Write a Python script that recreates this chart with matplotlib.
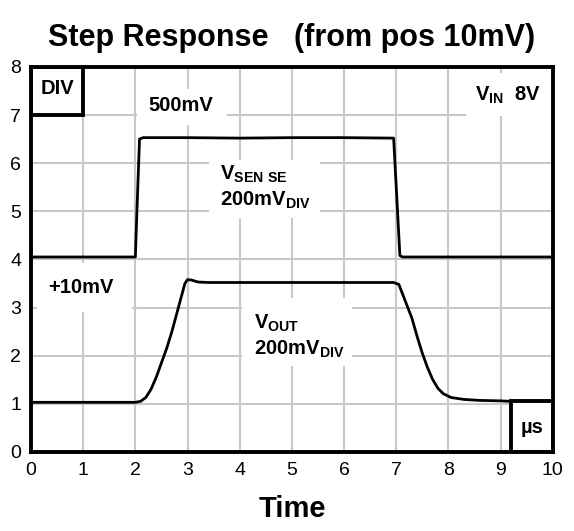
import matplotlib.pyplot as plt
from matplotlib.patches import Rectangle

plt.rcParams['font.family'] = ['Liberation Sans', 'DejaVu Sans']
plt.rcParams['mathtext.fontset'] = 'custom'
plt.rcParams['mathtext.rm'] = 'Liberation Sans'
plt.rcParams['mathtext.bf'] = 'Liberation Sans:bold'

# V_SENSE trace (divisions)
sense_t = [0, 1.0, 2.0, 2.03, 2.08, 2.15, 3.0, 4.0, 5.0, 6.0, 6.95, 7.07, 7.12, 8.0, 9.0, 10]
sense_v = [4.05, 4.05, 4.05, 5.0, 6.5, 6.53, 6.53, 6.52, 6.53, 6.53, 6.52, 4.08, 4.05, 4.05, 4.05, 4.05]

# V_OUT trace (divisions)
out_t = [0, 1.0, 2.0, 2.1, 2.2, 2.3, 2.4, 2.5, 2.6, 2.7, 2.8, 2.9, 2.95, 3.0, 3.08, 3.2, 3.4,
         4.0, 5.0, 6.0, 6.95, 7.05, 7.15, 7.3, 7.4, 7.5, 7.6, 7.7, 7.8, 7.9, 8.05, 8.3, 8.6, 9.0, 9.2]
out_v = [1.03, 1.03, 1.03, 1.05, 1.13, 1.3, 1.55, 1.85, 2.15, 2.5, 2.9, 3.3, 3.5, 3.58, 3.57, 3.53, 3.52,
         3.52, 3.52, 3.52, 3.52, 3.48, 3.2, 2.78, 2.4, 2.05, 1.75, 1.5, 1.32, 1.21, 1.13, 1.09, 1.07, 1.06, 1.05]

xticks = list(range(0, 11))
yticks = list(range(0, 9))

fig = plt.figure(figsize=(5.74, 5.31), dpi=100)
ax = fig.add_axes([0.054, 0.149, 0.909, 0.725])

ax.set_xlim(0, 10)
ax.set_ylim(0, 8)
ax.set_xticks(xticks)
ax.set_yticks(yticks)
ax.tick_params(length=0, labelsize=14, pad=7)
ax.grid(True, color='#c8c8c8', lw=1.5)
ax.set_axisbelow(True)
for s in ax.spines.values():
    s.set_linewidth(2.8)
    s.set_zorder(6)

# white patches behind the labels (they cut the grid)
for (x0, y0, w, h) in [(2.03, 6.8, 1.72, 0.75), (8.34, 6.97, 1.66, 0.9), (3.42, 4.87, 2.11, 1.2),
                       (4.05, 1.79, 2.1, 1.41), (0.11, 2.91, 1.82, 1.02)]:
    ax.add_patch(Rectangle((x0, y0), w, h, facecolor='white', edgecolor='none', zorder=1))

ax.plot(sense_t, sense_v, color='black', lw=2.0, zorder=3)
ax.plot(out_t, out_v, color='black', lw=2.0, zorder=3)

# corner boxes
ax.add_patch(Rectangle((0, 7), 1.0, 1.0, facecolor='white', edgecolor='black', lw=2.8, zorder=4))
ax.add_patch(Rectangle((9.2, 0), 0.8, 1.05, facecolor='white', edgecolor='black', lw=2.8, zorder=4))
ax.text(0.5, 7.55, 'DIV', fontsize=14.5, fontweight='bold', ha='center', va='center', zorder=5)
ax.text(9.6, 0.5, 'µs', fontsize=14.5, fontweight='bold', ha='center', va='center', zorder=5)

ax.text(2.25, 7.2, '500mV', fontsize=14.5, fontweight='bold', ha='left', va='center', zorder=5)
ax.text(9.77, 7.41, r'$\mathbf{V_{IN}}$  8V', fontsize=14.5, fontweight='bold', ha='right', va='center',
        zorder=5)
ax.text(3.62, 5.77, r'$\mathbf{V_{SEN\ SE}}$', fontsize=14.5, ha='left', va='center', zorder=5)
ax.text(3.62, 5.23, r'$\mathbf{200mV_{DIV}}$', fontsize=14.5, ha='left', va='center', zorder=5)
ax.text(0.33, 3.41, '+10mV', fontsize=14.5, fontweight='bold', ha='left', va='center', zorder=5)
ax.text(4.27, 2.67, r'$\mathbf{V_{OUT}}$', fontsize=14.5, ha='left', va='center', zorder=5)
ax.text(4.27, 2.13, r'$\mathbf{200mV_{DIV}}$', fontsize=14.5, ha='left', va='center', zorder=5)

ax.set_title('Step Response   (from pos 10mV)', fontsize=22, fontweight='bold', pad=15)
ax.set_xlabel('Time', fontsize=21, fontweight='bold', labelpad=12)

fig.savefig('out.png', dpi=100)
